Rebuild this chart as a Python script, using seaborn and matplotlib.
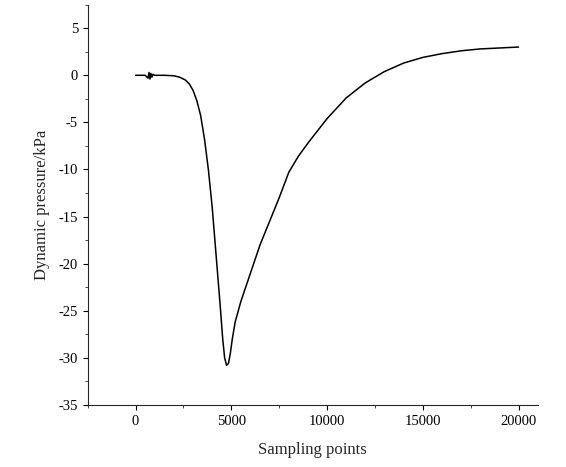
import numpy as np
import pandas as pd
import matplotlib
matplotlib.use("Agg")
import matplotlib.pyplot as plt
import seaborn as sns
from matplotlib.ticker import AutoMinorLocator

# values
sampling = [0, 500, 650, 700, 750, 800, 850, 900, 1000, 1500, 2000, 2300, 2600, 2800, 3000,
            3200, 3400, 3600, 3800, 4000, 4200, 4400, 4550, 4650, 4750, 4850, 4950, 5050,
            5200, 5500, 6000, 6500, 7000, 7500, 8000, 8500, 9000, 10000, 11000, 12000,
            13000, 14000, 15000, 16000, 17000, 18000, 19000, 20000]
pressure = [0, 0, -0.3, 0.3, -0.4, 0.2, -0.2, 0.1, 0, 0, -0.05, -0.2, -0.5, -0.9, -1.6,
            -2.7, -4.3, -6.8, -10, -14, -19, -24, -28, -30, -30.8, -30.6, -29.5, -28,
            -26.2, -24, -21, -18, -15.5, -13, -10.3, -8.6, -7.2, -4.6, -2.4, -0.8,
            0.4, 1.3, 1.9, 2.3, 2.6, 2.8, 2.9, 3.0]

df = pd.DataFrame({"x": sampling, "y": pressure})

sns.set_style("ticks")
plt.rcParams["font.family"] = ["Liberation Serif", "DejaVu Serif"]
plt.rcParams["axes.unicode_minus"] = False

fig, ax = plt.subplots(figsize=(5.66, 4.67), dpi=100)
fig.subplots_adjust(left=0.155, right=0.95, top=0.99, bottom=0.133)
sns.lineplot(data=df, x="x", y="y", ax=ax, color="black", linewidth=1.1)

ax.set_xlim(-2500, 21000)
ax.set_ylim(-35, 7.5)
ax.set_xticks([0, 5000, 10000, 15000, 20000])
ax.set_yticks(range(-35, 6, 5))
ax.xaxis.set_minor_locator(AutoMinorLocator(2))
ax.yaxis.set_minor_locator(AutoMinorLocator(2))
ax.tick_params(direction="out", labelsize=10.5, colors="black")
ax.tick_params(which="minor", length=2)
for s in ["top", "right"]:
    ax.spines[s].set_visible(False)
ax.set_xlabel("Sampling points", fontsize=12, labelpad=10)
ax.set_ylabel("Dynamic pressure/kPa", fontsize=12, labelpad=6)

plt.savefig("out.png", dpi=100)
